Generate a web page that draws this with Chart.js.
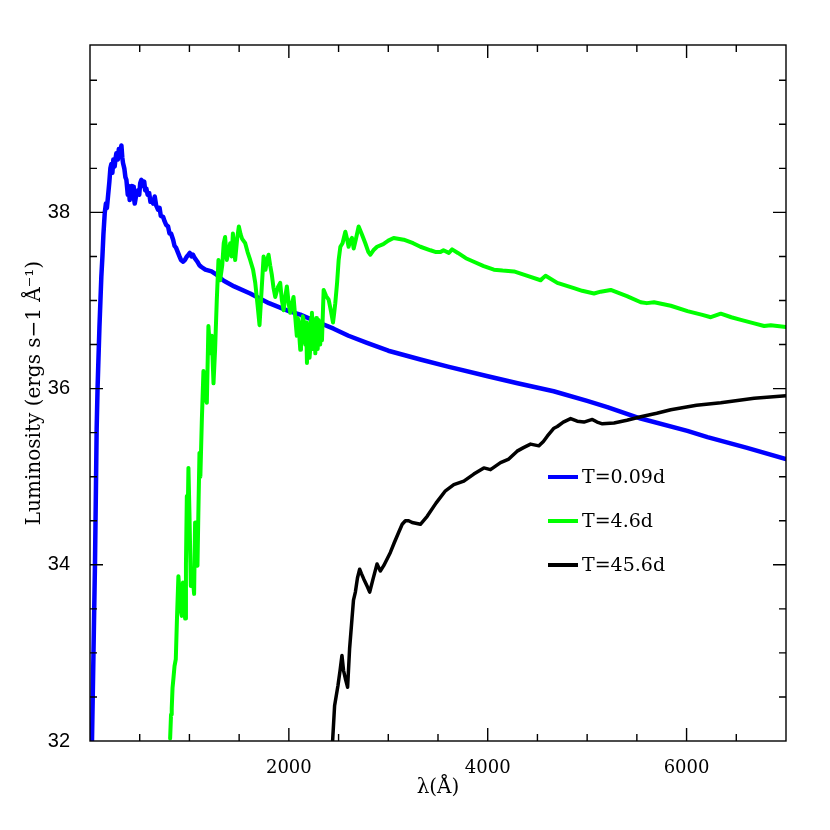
<!DOCTYPE html>
<html>
<head>
<meta charset="utf-8">
<script src="https://cdn.jsdelivr.net/npm/chart.js@4"></script>
<style>
  html, body { margin: 0; padding: 0; background: #fff; }
  #wrap { width: 830px; height: 830px; }
</style>
</head>
<body>
<div id="wrap"><canvas id="chart" width="830" height="830"></canvas></div>
<script>
// T=0.09d spectrum
const blueWave = [20,35,50,60,67,76,84,95,105,114,125,135,148,160,170,181,195,205,215,225,235,248,258,265,280,290,300,316,325,332,345,356,366,380,390,399,410,420,433,440,450,465,483,495,505,517,530,545,555,567,580,595,608,618,635,651,665,685,700,712,735,750,765,785,800,815,836,850,865,886,900,915,937,955,975,990,1004,1020,1035,1054,1080,1100,1121,1160,1222,1276,1350,1450,1611,1800,2000,2115,2300,2450,2600,2786,3000,3323,3600,4000,4300,4663,5000,5203,5539,6008,6210,6600,7000];
const blueLum = [32.0,33.0,34.0,34.9,35.54,36.0,36.3,36.7,37.0,37.27,37.5,37.75,37.99,38.1,38.05,38.18,38.35,38.5,38.55,38.45,38.6,38.52,38.62,38.67,38.6,38.72,38.65,38.76,38.62,38.56,38.5,38.4,38.37,38.2,38.3,38.14,38.22,38.3,38.29,38.18,38.1,38.2,38.25,38.2,38.33,38.37,38.3,38.35,38.25,38.27,38.2,38.22,38.12,38.14,38.1,38.18,38.08,38.03,38.05,37.96,37.95,37.9,37.86,37.84,37.76,37.76,37.69,37.62,37.6,37.54,37.5,37.46,37.44,37.46,37.5,37.52,37.54,37.5,37.52,37.48,37.44,37.4,37.38,37.35,37.33,37.29,37.22,37.16,37.08,36.97,36.88,36.84,36.75,36.68,36.6,36.52,36.43,36.33,36.25,36.14,36.06,35.97,35.86,35.79,35.66,35.52,35.45,35.33,35.2];

// T=4.6d spectrum
const greenWave = [806,815,822,830,839,850,863,875,889,900,910,923,935,945,957,965,974,982,990,1000,1014,1030,1047,1057,1065,1081,1090,1101,1110,1125,1141,1155,1175,1191,1210,1225,1242,1258,1275,1292,1309,1330,1345,1359,1376,1392,1410,1425,1437,1450,1460,1480,1497,1515,1530,1561,1585,1611,1640,1662,1685,1705,1725,1746,1765,1780,1796,1812,1829,1845,1863,1890,1913,1930,1947,1965,1980,2000,2014,2030,2047,2065,2080,2090,2100,2108,2115,2122,2130,2140,2148,2156,2165,2174,2182,2190,2200,2208,2215,2224,2232,2241,2250,2258,2266,2274,2282,2290,2299,2307,2315,2324,2333,2350,2375,2400,2420,2444,2455,2467,2485,2501,2518,2540,2568,2585,2601,2618,2635,2652,2675,2702,2735,2769,2800,2820,2850,2887,2950,3000,3054,3155,3250,3323,3424,3480,3525,3555,3609,3642,3700,3780,3860,3960,4062,4150,4264,4400,4532,4550,4582,4700,4867,4950,5069,5136,5237,5400,5539,5600,5673,5841,6009,6150,6244,6344,6450,6546,6680,6780,6847,7000];
const greenLum = [32.03,32.3,32.37,32.6,32.71,32.85,32.93,33.4,33.87,33.7,33.5,33.42,33.8,33.6,33.39,34.0,34.78,34.5,35.10,34.6,33.76,33.9,33.67,34.48,34.1,33.99,34.6,35.27,35.0,35.65,36.20,35.9,35.84,36.71,36.4,36.6,36.06,36.44,37.0,37.46,37.23,37.4,37.65,37.72,37.46,37.55,37.65,37.5,37.76,37.6,37.46,37.7,37.84,37.75,37.7,37.65,37.55,37.46,37.35,37.2,36.95,36.72,37.1,37.50,37.35,37.45,37.52,37.4,37.29,37.15,37.04,37.15,37.2,37.0,36.89,37.05,37.16,36.95,36.86,36.95,37.04,36.8,36.6,36.8,36.75,36.55,36.44,36.7,36.6,36.82,36.78,36.55,36.5,36.75,36.29,36.65,36.6,36.35,36.45,36.8,36.86,36.45,36.55,36.75,36.40,36.8,36.7,36.45,36.78,36.6,36.5,36.7,36.55,37.12,37.05,37.01,36.9,36.75,36.85,36.97,37.2,37.46,37.61,37.65,37.78,37.7,37.61,37.68,37.71,37.59,37.7,37.84,37.75,37.65,37.55,37.52,37.57,37.61,37.64,37.68,37.71,37.69,37.65,37.61,37.57,37.55,37.55,37.57,37.54,37.58,37.54,37.48,37.44,37.39,37.35,37.34,37.33,37.28,37.23,37.25,37.28,37.2,37.14,37.11,37.08,37.10,37.12,37.05,36.98,36.97,36.98,36.94,36.88,36.84,36.81,36.85,36.81,36.78,36.74,36.71,36.72,36.70];

// T=45.6d spectrum
const blackWave = [2440,2460,2494,2515,2534,2550,2568,2591,2611,2635,2650,2669,2690,2712,2730,2753,2790,2813,2847,2887,2920,2954,3021,3060,3105,3140,3172,3205,3240,3323,3391,3480,3575,3659,3760,3860,3961,4028,4129,4212,4296,4360,4431,4515,4560,4599,4666,4700,4760,4834,4900,4968,5052,5100,5153,5270,5400,5539,5700,5841,6100,6344,6680,7000];
const blackLum = [32.0,32.40,32.63,32.8,32.97,32.8,32.71,32.61,33.05,33.39,33.6,33.69,33.85,33.95,33.9,33.84,33.75,33.69,33.84,34.01,33.93,33.99,34.14,34.25,34.37,34.46,34.50,34.5,34.48,34.46,34.55,34.7,34.84,34.91,34.95,35.03,35.10,35.08,35.16,35.20,35.29,35.33,35.37,35.35,35.4,35.46,35.55,35.57,35.62,35.66,35.63,35.62,35.65,35.62,35.60,35.61,35.64,35.68,35.72,35.76,35.81,35.84,35.89,35.92];

const seriesLabels = ['T=0.09d', 'T=4.6d', 'T=45.6d'];
const seriesColors = ['#0000ff', '#00ff00', '#000000'];

const xTickLabels = [2000, 4000, 6000];
const yTickLabels = [32, 34, 36, 38];

function pts(xs, ys) {
    return xs.map((x, i) => ({ x: x, y: ys[i] }));
}

// frame with inward ticks on all four sides
const frameTicks = {
    id: 'frameTicks',
    afterDatasetsDraw(chart) {
        const { ctx, chartArea: a, scales: { x, y } } = chart;
        ctx.save();
        ctx.strokeStyle = '#000';
        ctx.lineWidth = 1.4;
        ctx.strokeRect(a.left, a.top, a.right - a.left, a.bottom - a.top);
        ctx.beginPath();
        for (let v = 500; v < 7000; v += 500) {
            const px = x.getPixelForValue(v);
            const len = v % 2000 === 0 ? 13 : 7;
            ctx.moveTo(px, a.bottom); ctx.lineTo(px, a.bottom - len);
            ctx.moveTo(px, a.top); ctx.lineTo(px, a.top + len);
        }
        for (let v = 32.5; v < 39.9; v += 0.5) {
            const py = y.getPixelForValue(v);
            const len = Math.abs(v % 2) < 1e-6 ? 13 : 7;
            ctx.moveTo(a.left, py); ctx.lineTo(a.left + len, py);
            ctx.moveTo(a.right, py); ctx.lineTo(a.right - len, py);
        }
        ctx.stroke();
        ctx.restore();
    }
};

// legend drawn inside the plot
const innerLegend = {
    id: 'innerLegend',
    afterDraw(chart) {
        const { ctx, chartArea: a } = chart;
        ctx.save();
        ctx.font = '19px "DejaVu Serif"';
        ctx.textBaseline = 'middle';
        ctx.fillStyle = '#000';
        seriesLabels.forEach((lab, i) => {
            const yy = a.top + 432 + i * 44;
            const x0 = a.left + 458;
            ctx.strokeStyle = seriesColors[i];
            ctx.lineWidth = 4;
            ctx.beginPath();
            ctx.moveTo(x0, yy); ctx.lineTo(x0 + 30, yy);
            ctx.stroke();
            ctx.fillText(lab, x0 + 34, yy + 1);
        });
        ctx.restore();
    }
};

new Chart(document.getElementById('chart'), {
    type: 'line',
    data: {
        datasets: [
            { label: seriesLabels[0], data: pts(blueWave, blueLum), borderColor: seriesColors[0], borderWidth: 4.5, order: 3 },
            { label: seriesLabels[1], data: pts(greenWave, greenLum), borderColor: seriesColors[1], borderWidth: 4, order: 1 },
            { label: seriesLabels[2], data: pts(blackWave, blackLum), borderColor: seriesColors[2], borderWidth: 3.5, order: 2 }
        ]
    },
    options: {
        responsive: false,
        animation: false,
        events: [],
        parsing: false,
        elements: { point: { radius: 0 }, line: { tension: 0, borderJoinStyle: 'round', borderCapStyle: 'round' } },
        layout: { padding: { top: 45, right: 44, bottom: 0, left: 0 } },
        plugins: { legend: { display: false }, tooltip: { enabled: false } },
        scales: {
            x: {
                type: 'linear',
                min: 0,
                max: 7000,
                grid: { display: false },
                border: { display: false },
                afterFit(s) { s.height = 89; },
                afterBuildTicks(s) { s.ticks = xTickLabels.map(v => ({ value: v })); },
                ticks: {
                    padding: 9,
                    color: '#000',
                    maxRotation: 0,
                    font: { family: '"DejaVu Serif"', size: 18 },
                    callback: v => String(v)
                },
                title: {
                    display: true,
                    text: 'λ(Å)',
                    color: '#000',
                    font: { family: '"DejaVu Serif"', size: 20 },
                    padding: { top: 0, bottom: 30 }
                }
            },
            y: {
                type: 'linear',
                min: 32,
                max: 39.9,
                grid: { display: false },
                border: { display: false },
                afterFit(s) { s.width = 90; },
                afterBuildTicks(s) { s.ticks = yTickLabels.map(v => ({ value: v })); },
                ticks: {
                    padding: 12,
                    color: '#000',
                    font: { family: '"Liberation Sans"', size: 20 },
                    callback: v => String(v)
                },
                title: {
                    display: true,
                    text: 'Luminosity (ergs s−1 Å⁻¹)',
                    color: '#000',
                    font: { family: '"DejaVu Serif"', size: 20 },
                    padding: { top: 23, bottom: 0 }
                }
            }
        }
    },
    plugins: [frameTicks, innerLegend]
});
</script>
</body>
</html>
